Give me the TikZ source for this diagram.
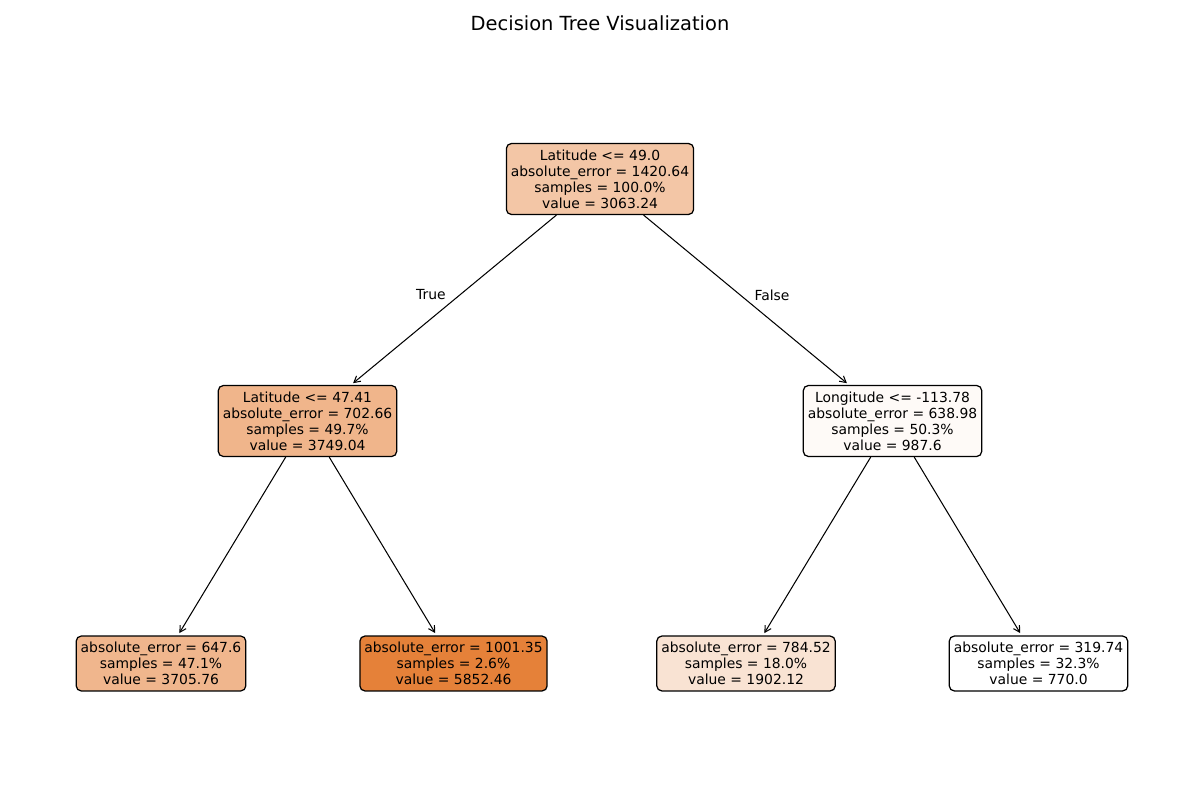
\documentclass[tikz,border=0pt]{standalone}
\usepackage{fontspec}
\setmainfont{DejaVu Sans}
\usetikzlibrary{arrows.meta}

\definecolor{cRoot}{RGB}{243,198,166}
\definecolor{cLeft}{RGB}{240,181,139}
\definecolor{cRight}{RGB}{254,250,247}
\definecolor{cLLa}{RGB}{240,182,141}
\definecolor{cLLb}{RGB}{229,129,57}
\definecolor{cRLa}{RGB}{249,227,211}
\definecolor{cRLb}{RGB}{255,255,255}

\tikzset{
  treenode/.style={draw=black, line width=0.9pt, rounded corners=3.5pt,
    rectangle, align=center, inner xsep=3.2pt, inner ysep=4.3pt,
    font=\fontsize{10bp}{11.6pt}\selectfont},
  edge/.style={line width=0.75pt, -{Straight Barb[length=4.5pt,width=5pt]},
    shorten >=2pt},
  branchlabel/.style={font=\fontsize{10bp}{12pt}\selectfont},
}

\begin{document}
\begin{tikzpicture}[x=0.01in, y=-0.01in]
  \useasboundingbox (0,0) rectangle (1200,800);
  \fill[white] (0,0) rectangle (1200,800);

  \node[font=\fontsize{14bp}{16pt}\selectfont] (title) at (600,23) {Decision Tree Visualization};

  % internal splits
  \node[treenode, fill=cRoot] (root) at (600,179)
    {Latitude <= 49.0\\absolute\_error = 1420.64\\samples = 100.0\%\\value = 3063.24};
  \node[treenode, fill=cLeft] (left) at (307.5,421)
    {Latitude <= 47.41\\absolute\_error = 702.66\\samples = 49.7\%\\value = 3749.04};
  \node[treenode, fill=cRight] (right) at (892.5,421)
    {Longitude <= -113.78\\absolute\_error = 638.98\\samples = 50.3\%\\value = 987.6};

  % leaves
  \node[treenode, fill=cLLa] (leafA) at (161,663.5)
    {absolute\_error = 647.6\\samples = 47.1\%\\value = 3705.76};
  \node[treenode, fill=cLLb] (leafB) at (453.5,663.5)
    {absolute\_error = 1001.35\\samples = 2.6\%\\value = 5852.46};
  \node[treenode, fill=cRLa] (leafC) at (746,663.5)
    {absolute\_error = 784.52\\samples = 18.0\%\\value = 1902.12};
  \node[treenode, fill=cRLb] (leafD) at (1038.5,663.5)
    {absolute\_error = 319.74\\samples = 32.3\%\\value = 770.0};

  % connectors
  \draw[edge] (root) -- (left);
  \draw[edge] (root) -- (right);
  \draw[edge] (left) -- (leafA);
  \draw[edge] (left) -- (leafB);
  \draw[edge] (right) -- (leafC);
  \draw[edge] (right) -- (leafD);

  \node[branchlabel] (truelbl) at (431,295) {True};
  \node[branchlabel] (falselbl) at (772,295) {False};
\end{tikzpicture}
\end{document}
